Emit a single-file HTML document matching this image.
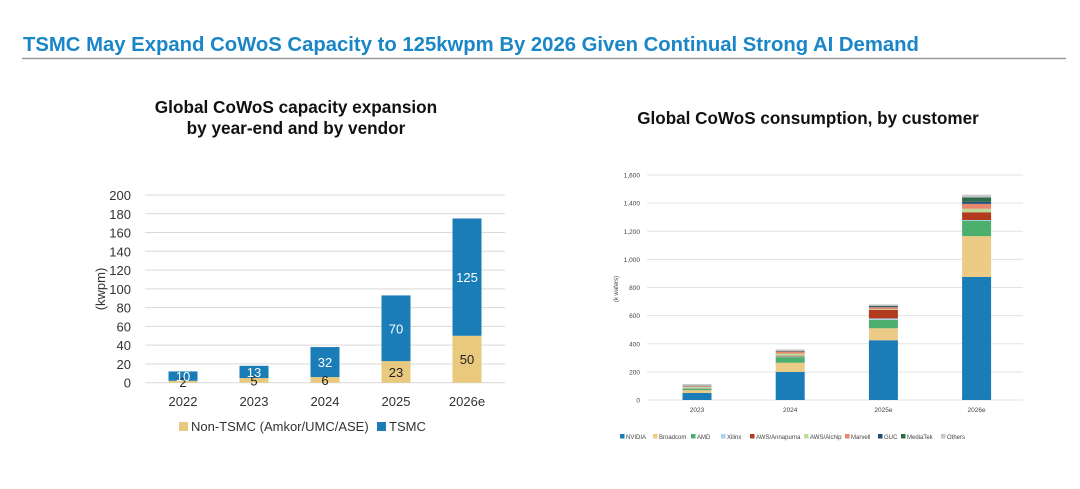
<!DOCTYPE html>
<html><head><meta charset="utf-8"><style>
body{margin:0;background:#fff;}
svg{display:block;font-family:"Liberation Sans",Arial,sans-serif;}
</style></head><body>
<svg width="1080" height="489" viewBox="0 0 1080 489">
<text x="23" y="51" font-size="20.3" font-weight="bold" fill="#1a86c7">TSMC May Expand CoWoS Capacity to 125kwpm By 2026 Given Continual Strong AI Demand</text>
<line x1="22" y1="58.5" x2="1066" y2="58.5" stroke="#9a9a9a" stroke-width="1.5"/>
<text x="296" y="113" font-size="17.2" font-weight="bold" text-anchor="middle" fill="#111">Global CoWoS capacity expansion</text>
<text x="296" y="134" font-size="17.2" font-weight="bold" text-anchor="middle" fill="#111">by year-end and by vendor</text>
<text x="808" y="124" font-size="17.1" font-weight="bold" text-anchor="middle" fill="#111">Global CoWoS consumption, by customer</text>
<g id="left"></g>
<g id="right"></g>
</svg>
<script>
const capYears = ["2022","2023","2024","2025","2026e"];
const nonTsmc = [2,5,6,23,50];
const tsmc = [10,13,32,70,125];
const capTicks = [0,20,40,60,80,100,120,140,160,180,200];

const conYears = ["2023","2024","2025e","2026e"];
const conSeries = ["NVIDIA","Broadcom","AMD","Xilinx","AWS/Annapurna","AWS/Alchip","Marvell","GUC","MediaTek","Others"];
const nvidia = [50,200,425,875];
const broadcom = [20,65,85,290];
const amd = [10,40,60,110];
const xilinx = [3,5,10,5];
const awsAnnapurna = [2,5,60,55];
const awsAlchip = [8,15,5,25];
const marvell = [5,15,15,35];
const guc = [2,3,5,15];
const mediatek = [2,2,5,30];
const others = [12,10,10,20];
const conTicks = [0,200,400,600,800,1000,1200,1400,1600];

const NS="http://www.w3.org/2000/svg";
function mk(parent,tag,attrs,text){const e=document.createElementNS(NS,tag);for(const k in attrs)e.setAttribute(k,attrs[k]);if(text!==undefined)e.textContent=text;parent.appendChild(e);return e;}

// Left chart
(function(){
const g=document.getElementById('left');
const y0=382.7, pxPer=187.7/200;
const y=v=>y0-v*pxPer;
const x=i=>183+i*71;
const bw=29;
capTicks.forEach(t=>{
 const l=mk(g,'line',{x1:145,x2:505,y1:y(t),y2:y(t),stroke:'#d9d9d9','stroke-width':1});
 
 
 const tx=mk(g,'text',{x:131,y:y(t)+5,'font-size':13,'text-anchor':'end',fill:'#333'},t);
 
 
});
const yt=mk(g,'text',{x:0,y:0,'font-size':13,'text-anchor':'middle',fill:'#333',transform:'translate(105,289) rotate(-90)'},'(kwpm)');


capYears.forEach((yr,i)=>{
 const a=nonTsmc[i], b=tsmc[i];
 const r1=mk(g,'rect',{x:x(i)-bw/2,y:y(a),width:bw,height:a*pxPer,fill:'#e8c97e'});
 
 
 const r2=mk(g,'rect',{x:x(i)-bw/2,y:y(a+b),width:bw,height:b*pxPer,fill:'#1a7db8'});
 
 
 const l1=mk(g,'text',{x:x(i),y:y(a/2)+5,'font-size':13,'text-anchor':'middle',fill:'#222'},a);
 
 
 const l2=mk(g,'text',{x:x(i),y:y(a+b/2)+5,'font-size':13,'text-anchor':'middle',fill:'#fff'},b);
 
 
 const xl=mk(g,'text',{x:x(i),y:406,'font-size':13,'text-anchor':'middle',fill:'#333'},yr);
 
 
});
const lg1=mk(g,'rect',{x:179,y:422,width:9,height:9,fill:'#e8c97e'});


const lt1=mk(g,'text',{x:191,y:431,'font-size':13,fill:'#333'},'Non-TSMC (Amkor/UMC/ASE)');


const lg2=mk(g,'rect',{x:377,y:422,width:9,height:9,fill:'#1a7db8'});


const lt2=mk(g,'text',{x:389,y:431,'font-size':13,fill:'#333'},'TSMC');


})();

// Right chart
(function(){
const g=document.getElementById('right');
const y0=400, pxPer=225/1600;
const y=v=>y0-v*pxPer;
const x=i=>697+i*93.2;
const bw=29;
const colors=['#1a7db8','#ebcb85','#4caf6e','#a9d4ec','#b23a1e','#b9dc9c','#e8876a','#1f4e79','#2e6b47','#c8c8c8'];
const series=[nvidia,broadcom,amd,xilinx,awsAnnapurna,awsAlchip,marvell,guc,mediatek,others];
conTicks.forEach(t=>{
 const l=mk(g,'line',{x1:647,x2:1023,y1:y(t),y2:y(t),stroke:'#e3e3e3','stroke-width':1});
 
 
 const tx=mk(g,'text',{x:640,y:y(t)+2.5,'font-size':6.5,'text-anchor':'end',fill:'#444'},t.toLocaleString('en-US'));
 
 
});
const yt=mk(g,'text',{x:0,y:0,'font-size':6,'text-anchor':'middle',fill:'#444',transform:'translate(618,289) rotate(-90)'},'(k wafers)');


conYears.forEach((yr,i)=>{
 let acc=0;
 series.forEach((s,k)=>{
  const v=s[i];
  const r=mk(g,'rect',{x:x(i)-bw/2,y:y(acc+v),width:bw,height:v*pxPer,fill:colors[k]});
  
  
  acc+=v;
 });
 const xl=mk(g,'text',{x:x(i),y:412,'font-size':6.5,'text-anchor':'middle',fill:'#444'},yr);
 
 
});
const lx=[620,653,691,721,750,804,845,878,901,941];
conSeries.forEach((n,k)=>{
 const sw=mk(g,'rect',{x:lx[k],y:434,width:4.5,height:4.5,fill:colors[k]});
 
 
 const t=mk(g,'text',{x:lx[k]+6,y:439,'font-size':6,fill:'#444'},n);
 
 
});
})();
</script>
</body></html>
